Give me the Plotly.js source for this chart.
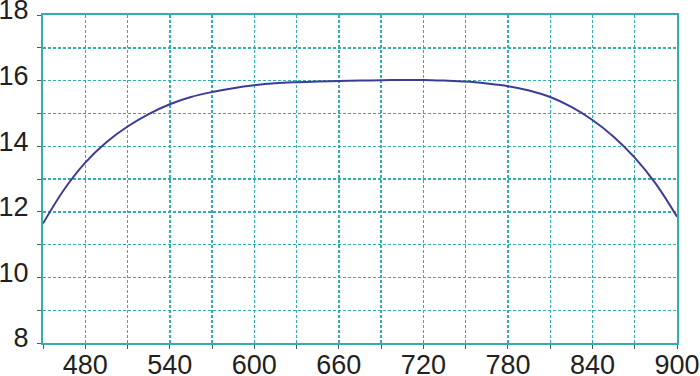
<!DOCTYPE html>
<html>
<head>
<meta charset="utf-8">
<script src="https://cdn.plot.ly/plotly-3.0.1.min.js"></script>
<style>html,body{margin:0;padding:0;background:#fff;}#chart{width:700px;height:376px;}</style>
</head>
<body>
<div id="chart"></div>
<script>
// Data
const xValues = [450, 465, 480, 495, 510, 525, 540, 555, 570, 585, 600, 615, 630, 645, 660, 675, 690, 705, 720, 735, 750, 765, 780, 795, 810, 825, 840, 855, 870, 885, 900];
const yValues = [11.64, 12.68, 13.5, 14.12, 14.6, 14.98, 15.28, 15.5, 15.65, 15.77, 15.86, 15.92, 15.95, 15.97, 15.99, 16.0, 16.01, 16.02, 16.02, 16.0, 15.97, 15.91, 15.83, 15.7, 15.5, 15.2, 14.8, 14.29, 13.65, 12.85, 11.85];
const xTickVals = [480, 540, 600, 660, 720, 780, 840, 900];
const xTickText = ['480', '540', '600', '660', '720', '780', '840', '900'];
const yTickVals = [8, 10, 12, 14, 16, 18];
const yTickText = ['8', '10', '12', '14', '16', '18'];

const teal = '#33adad';
const textColor = '#231f20';

const trace = {
  x: xValues,
  y: yValues,
  type: 'scatter',
  mode: 'lines',
  line: {color: '#3c3c96', width: 2, shape: 'spline', smoothing: 1},
  hoverinfo: 'skip'
};

const axisCommon = {
  showline: true,
  linecolor: teal,
  linewidth: 2,
  mirror: true,
  showgrid: true,
  gridcolor: teal,
  gridwidth: 1.4,
  griddash: '3px,2px',
  zeroline: false,
  ticks: 'outside',
  ticklen: 4,
  tickwidth: 1,
  tickcolor: '#555',
  ticklabeloverflow: 'allow',
  tickfont: {family: 'Liberation Sans, Arial, sans-serif', size: 27, color: textColor},
  tickmode: 'array'
};

const layout = {
  width: 700,
  height: 376,
  margin: {l: 43, r: 23, t: 15, b: 33},
  paper_bgcolor: '#ffffff',
  plot_bgcolor: '#ffffff',
  showlegend: false,
  xaxis: Object.assign({}, axisCommon, {
    range: [450, 900],
    tickvals: xTickVals,
    ticktext: xTickText,
    ticklabelstandoff: -7,
    minor: {dtick: 30, tick0: 450, ticks: 'outside', ticklen: 4, tickcolor: '#555', showgrid: true, gridcolor: teal, gridwidth: 1.4, griddash: '3px,2px'}
  }),
  yaxis: Object.assign({}, axisCommon, {
    range: [8, 18],
    tickvals: yTickVals,
    ticktext: yTickText,
    ticklabelstandoff: 3,
    ticklabelshift: -5,
    minor: {dtick: 1, tick0: 8, ticks: 'outside', ticklen: 4, tickcolor: '#555', showgrid: true, gridcolor: teal, gridwidth: 1.4, griddash: '3px,2px'}
  })
};

Plotly.newPlot('chart', [trace], layout, {displayModeBar: false, staticPlot: true});
</script>
</body>
</html>
